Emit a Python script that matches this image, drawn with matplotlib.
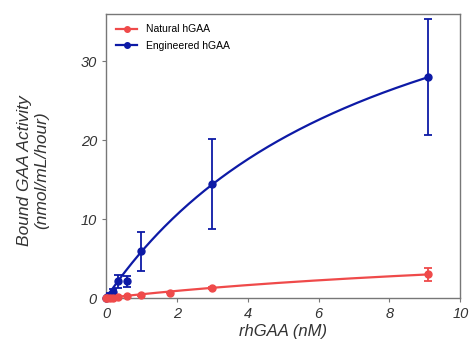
import matplotlib.pyplot as plt
import numpy as np

plt.rcParams['font.family'] = ['Liberation Sans', 'DejaVu Sans']

# concentrations (nM)
x_nat = [0, 0.03, 0.1, 0.2, 0.33, 0.6, 1.0, 1.8, 3.0, 9.1]
y_nat = [0, 0.0, 0.02, 0.05, 0.1, 0.2, 0.35, 0.7, 1.3, 3.0]
err_nat = [0, 0, 0, 0, 0, 0, 0.05, 0.1, 0.15, 0.8]

x_eng = [0, 0.03, 0.1, 0.2, 0.33, 0.6, 1.0, 3.0, 9.1]
y_eng = [0, 0.1, 0.4, 0.8, 2.1, 2.1, 5.9, 14.4, 28.0]
err_eng = [0, 0.1, 0.2, 0.3, 0.8, 0.7, 2.5, 5.7, 7.3]

# one-site binding fit parameters (Bmax, Kd)
fit_nat = (8.4, 16.4)
fit_eng = (52.3, 7.9)

red = '#ef4a4a'
blue = '#0d1aa6'

fig = plt.figure(figsize=(4.7, 3.47), dpi=100)
ax = fig.add_axes([0.2255, 0.141, 0.754, 0.819])

xf = np.linspace(0, 9.1, 200)
for xs, ys, es, (bmax, kd), c, lab, z in [
        (x_nat, y_nat, err_nat, fit_nat, red, 'Natural hGAA', 5),
        (x_eng, y_eng, err_eng, fit_eng, blue, 'Engineered hGAA', 3)]:
    eb = ax.errorbar(xs, ys, yerr=es, fmt='o', color=c, ms=5, capsize=3,
                     elinewidth=1.3, capthick=1.3, zorder=z)
    eb[0].set_clip_on(False)
    ax.plot(xf, bmax * xf / (kd + xf), color=c, lw=1.6, zorder=z - 1)
    ax.plot([], [], '-o', color=c, ms=4, lw=1.6, label=lab)

ax.set_xlim(0, 10)
ax.set_ylim(0, 36)
ax.set_xticks([0, 2, 4, 6, 8, 10])
ax.set_yticks([0, 10, 20, 30])
for s in ax.spines.values():
    s.set_color('#777777')
    s.set_linewidth(1)
ax.tick_params(direction='out', length=3, color='#777777', labelsize=10.5,
               labelcolor='#333333')
for t in ax.get_xticklabels() + ax.get_yticklabels():
    t.set_style('italic')

ax.set_xlabel('rhGAA (nM)', fontsize=12, style='italic', color='#333333',
              labelpad=2)
ax.set_ylabel('Bound GAA Activity\n(nmol/mL/hour)', fontsize=12.5,
              style='italic', color='#333333', labelpad=20)
ax.yaxis.set_label_coords(-0.16, 0.45)
ax.legend(loc='upper left', frameon=False, fontsize=7.5, handlelength=2,
          borderaxespad=0.6, labelspacing=0.6)

fig.savefig('out.png', dpi=100)
